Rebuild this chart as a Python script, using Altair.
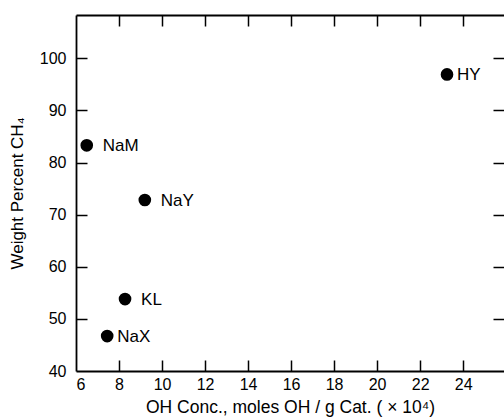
import altair as alt
import pandas as pd

# Data
labels = ["HY", "NaM", "NaY", "KL", "NaX"]
oh_conc = [23.25, 6.5, 9.2, 8.28, 7.45]
wt_ch4 = [96.9, 83.3, 72.8, 53.8, 46.7]
tight_labels = ["NaX", "HY"]

x_label_ticks = [6, 8, 10, 12, 14, 16, 18, 20, 22, 24]
x_inner_ticks = [8, 10, 12, 14, 16, 18, 20, 22, 24]
y_label_ticks = [40, 50, 60, 70, 80, 90, 100]
y_inner_ticks = [50, 60, 70, 80, 90, 100]

df = pd.DataFrame({"label": labels, "x": oh_conc, "y": wt_ch4})

W, H = 428, 356
FONT = "Liberation Sans"
xscale = alt.Scale(domain=[6, 25.9], nice=False, zero=False)
yscale = alt.Scale(domain=[40, 108.3], nice=False, zero=False)

# Layer 1: points, with labelled axes (left & bottom frame lines)
x_main = alt.Axis(orient="bottom", values=x_label_ticks, ticks=False, tickSize=0,
                  labelPadding=5, labelFontSize=16, labelFont=FONT, labelColor="black",
                  domain=True, domainColor="black", domainWidth=1.8, grid=False,
                  title="OH Conc.,  moles OH / g Cat.  ( × 10⁴)", titleFont=FONT,
                  titleFontSize=17.5, titleFontWeight="normal", titleColor="black",
                  titleBaseline="middle", titleY=36)
y_main = alt.Axis(orient="left", values=y_label_ticks, ticks=False, tickSize=0,
                  labelPadding=10, labelFontSize=16, labelFont=FONT, labelColor="black",
                  domain=True, domainColor="black", domainWidth=1.8, grid=False,
                  title="Weight Percent CH₄", titleFont=FONT, titleFontSize=17,
                  titleFontWeight="normal", titleColor="black",
                  titleBaseline="middle", titleX=-59)

points = alt.Chart(df).mark_circle(size=160, color="black", opacity=1).encode(
    x=alt.X("x:Q", scale=xscale, axis=x_main),
    y=alt.Y("y:Q", scale=yscale, axis=y_main),
)

# Layer 2: labels with wider gap; inward ticks on bottom and left edges
tight_expr = "indexof([" + ",".join("'" + t + "'" for t in tight_labels) + "], datum.label)"
x_in_bottom = alt.Axis(orient="top", offset=-H, values=x_inner_ticks, labels=False,
                       domain=False, grid=False, title=None, tickSize=11,
                       tickColor="black", tickWidth=1.5)
y_in_left = alt.Axis(orient="right", offset=-W, values=y_inner_ticks, labels=False,
                     domain=False, grid=False, title=None, tickSize=11,
                     tickColor="black", tickWidth=1.5)
text_wide = alt.Chart(df).transform_filter(tight_expr + " < 0").mark_text(
    align="left", baseline="middle", dx=16, dy=1, fontSize=17, font=FONT, color="black"
).encode(
    x=alt.X("x:Q", scale=xscale, axis=x_in_bottom),
    y=alt.Y("y:Q", scale=yscale, axis=y_in_left),
    text="label:N",
)

# Layer 3: labels with tight gap; inward ticks on top and right edges, top frame line
x_in_top = alt.Axis(orient="bottom", offset=-H, values=x_inner_ticks, labels=False,
                    domain=True, domainColor="black", domainWidth=1.8, grid=False,
                    title=None, tickSize=11, tickColor="black", tickWidth=1.5)
y_in_right = alt.Axis(orient="left", offset=-W, values=y_inner_ticks, labels=False,
                      domain=False, grid=False, title=None, tickSize=11,
                      tickColor="black", tickWidth=1.5)
text_tight = alt.Chart(df).transform_filter(tight_expr + " >= 0").mark_text(
    align="left", baseline="middle", dx=10, dy=1, fontSize=17, font=FONT, color="black"
).encode(
    x=alt.X("x:Q", scale=xscale, axis=x_in_top),
    y=alt.Y("y:Q", scale=yscale, axis=y_in_right),
    text="label:N",
)

chart = alt.layer(points, text_wide, text_tight).resolve_axis(
    x="independent", y="independent"
).properties(
    width=W, height=H,
    padding={"left": 76, "top": 15, "right": 0, "bottom": 46},
    autosize=alt.AutoSizeParams(type="none"),
    background="white",
).configure_view(stroke=None)

chart.save("out.html", embed_options={"renderer": "svg", "actions": False})
